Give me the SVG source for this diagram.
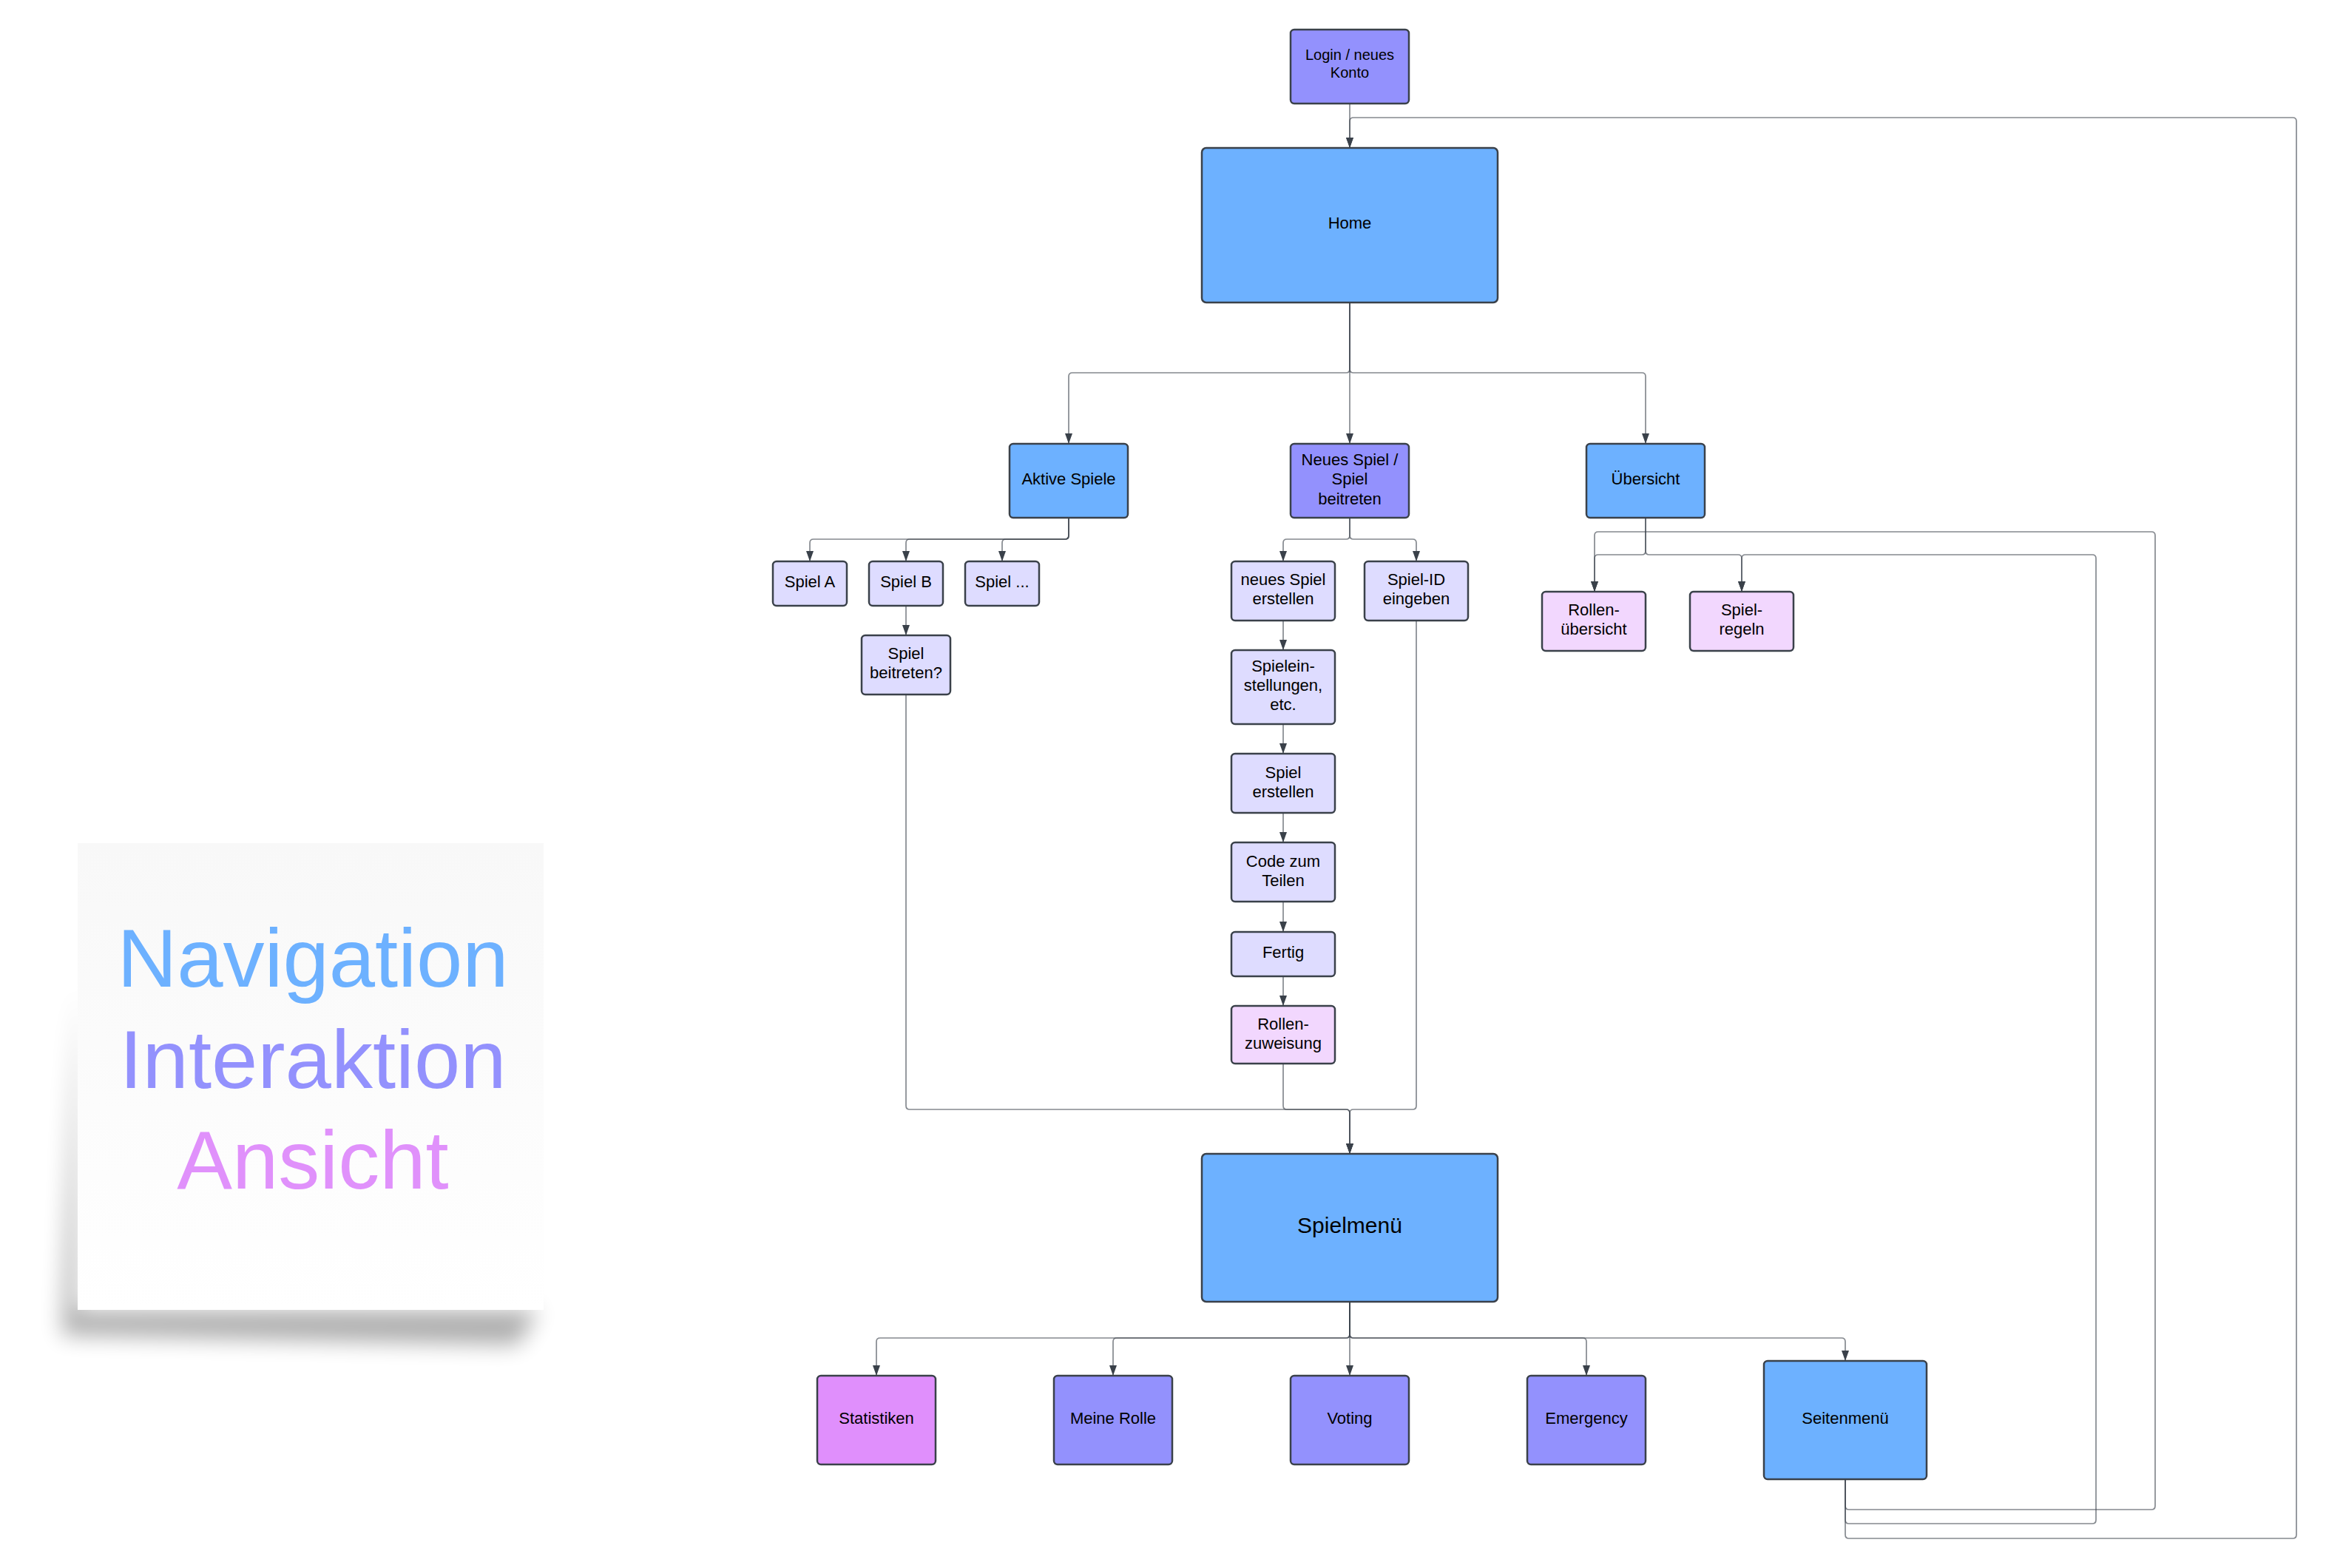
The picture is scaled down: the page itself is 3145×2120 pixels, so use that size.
<svg xmlns="http://www.w3.org/2000/svg" width="3145" height="2120" viewBox="0 0 3145 2120">
<defs>
<style>
.nd{stroke:#3a414a;stroke-width:2.5}
.blue{fill:#6db1ff}
.purple{fill:#9391fd}
.lav{fill:#dedcff}
.pink{fill:#f2d7fe}
.mag{fill:#e08ffc}
.t{font-family:"Liberation Sans",Arial,sans-serif;font-size:22px;fill:#000;text-anchor:middle}
.c{fill:none;stroke:#3a414a;stroke-opacity:0.62;stroke-width:1.7;marker-end:url(#arr)}
.leg{font-family:"Liberation Sans",Arial,sans-serif;font-size:112px;text-anchor:middle}
</style>
<marker id="arr" viewBox="0 0 14 10" refX="14" refY="5" markerWidth="14" markerHeight="10" markerUnits="userSpaceOnUse" orient="auto">
<path d="M0,0 L14,5 L0,10 Z" fill="#3a414a"/>
</marker>
<linearGradient id="note" x1="0" y1="0" x2="0" y2="1">
<stop offset="0" stop-color="#f8f8f8"/>
<stop offset="1" stop-color="#ffffff"/>
</linearGradient>
<filter id="blur" x="-20%" y="-20%" width="140%" height="140%">
<feGaussianBlur stdDeviation="15"/>
</filter>
</defs>
<rect width="3145" height="2120" fill="#ffffff"/>

<g id="legend">
<path d="M104,1330 L84,1805 L700,1818 L728,1772 L104,1772 Z" fill="#000" opacity="0.32" filter="url(#blur)"/>
<rect x="105" y="1140" width="630" height="631" fill="url(#note)"/>
<text class="leg" x="423" y="1334" fill="#6db1ff">Navigation</text>
<text class="leg" x="423" y="1471" fill="#9391fd">Interaktion</text>
<text class="leg" x="423" y="1607" fill="#e091fb">Ansicht</text>
</g>

<g id="connectors">
<path class="c" d="M1825,140 V200"/>
<path class="c" d="M1825,409 V499 Q1825,504 1820,504 H1450 Q1445,504 1445,509 V600"/>
<path class="c" d="M1825,409 V600"/>
<path class="c" d="M1825,409 V499 Q1825,504 1830,504 H2220 Q2225,504 2225,509 V600"/>
<path class="c" d="M1445,700 V724 Q1445,729 1440,729 H1100 Q1095,729 1095,734 V759"/>
<path class="c" d="M1445,700 V724 Q1445,729 1440,729 H1230 Q1225,729 1225,734 V759"/>
<path class="c" d="M1445,700 V724 Q1445,729 1440,729 H1360 Q1355,729 1355,734 V759"/>
<path class="c" d="M1225,819 V859"/>
<path class="c" d="M1825,700 V724 Q1825,729 1820,729 H1740 Q1735,729 1735,734 V759"/>
<path class="c" d="M1825,700 V724 Q1825,729 1830,729 H1910 Q1915,729 1915,734 V759"/>
<path class="c" d="M1735,839 V879"/>
<path class="c" d="M1735,979 V1019"/>
<path class="c" d="M1735,1099 V1139"/>
<path class="c" d="M1735,1219 V1260"/>
<path class="c" d="M1735,1320 V1360"/>
<path class="c" d="M1225,939 V1495 Q1225,1500 1230,1500 H1820 Q1825,1500 1825,1505 V1560"/>
<path class="c" d="M1735,1438 V1495 Q1735,1500 1740,1500 H1820 Q1825,1500 1825,1505 V1560"/>
<path class="c" d="M1915,839 V1495 Q1915,1500 1910,1500 H1830 Q1825,1500 1825,1505 V1560"/>
<path class="c" d="M1825,1760 V1804 Q1825,1809 1820,1809 H1190 Q1185,1809 1185,1814 V1860"/>
<path class="c" d="M1825,1760 V1804 Q1825,1809 1820,1809 H1510 Q1505,1809 1505,1814 V1860"/>
<path class="c" d="M1825,1760 V1860"/>
<path class="c" d="M1825,1760 V1804 Q1825,1809 1830,1809 H2140 Q2145,1809 2145,1814 V1860"/>
<path class="c" d="M1825,1760 V1804 Q1825,1809 1830,1809 H2490 Q2495,1809 2495,1814 V1840"/>
<path class="c" d="M2225,700 V745 Q2225,750 2220,750 H2161 Q2156,750 2156,755 V800"/>
<path class="c" d="M2225,700 V745 Q2225,750 2230,750 H2350 Q2355,750 2355,755 V800"/>
<path class="c" d="M2495,2000 V2075 Q2495,2080 2500,2080 H3100 Q3105,2080 3105,2075 V164 Q3105,159 3100,159 H1830 Q1825,159 1825,164 V200"/>
<path class="c" d="M2495,2000 V2036 Q2495,2041 2500,2041 H2909 Q2914,2041 2914,2036 V724 Q2914,719 2909,719 H2161 Q2156,719 2156,724 V800"/>
<path class="c" d="M2495,2000 V2055 Q2495,2060 2500,2060 H2829 Q2834,2060 2834,2055 V755 Q2834,750 2829,750 H2360 Q2355,750 2355,755 V800"/>
</g>

<g id="login"><rect class="nd purple" x="1745" y="40" width="160" height="100" rx="5"/><text class="t" style="font-size:20px" x="1825" y="81">Login / neues</text><text class="t" style="font-size:20px" x="1825" y="105">Konto</text></g>
<g id="home"><rect class="nd blue" x="1625" y="200" width="400" height="209" rx="6"/><text class="t" x="1825" y="309">Home</text></g>
<g id="aktive"><rect class="nd blue" x="1365" y="600" width="160" height="100" rx="5"/><text class="t" x="1445" y="655">Aktive Spiele</text></g>
<g id="neues"><rect class="nd purple" x="1745" y="600" width="160" height="100" rx="5"/><text class="t" x="1825" y="629">Neues Spiel /</text><text class="t" x="1825" y="655">Spiel</text><text class="t" x="1825" y="682">beitreten</text></g>
<g id="uebersicht"><rect class="nd blue" x="2145" y="600" width="160" height="100" rx="5"/><text class="t" x="2225" y="655">Übersicht</text></g>
<g id="spielA"><rect class="nd lav" x="1045" y="759" width="100" height="60" rx="5"/><text class="t" x="1095" y="794">Spiel A</text></g>
<g id="spielB"><rect class="nd lav" x="1175" y="759" width="100" height="60" rx="5"/><text class="t" x="1225" y="794">Spiel B</text></g>
<g id="spielX"><rect class="nd lav" x="1305" y="759" width="100" height="60" rx="5"/><text class="t" x="1355" y="794">Spiel ...</text></g>
<g id="beitreten"><rect class="nd lav" x="1165" y="859" width="120" height="80" rx="5"/><text class="t" x="1225" y="891">Spiel</text><text class="t" x="1225" y="917">beitreten?</text></g>
<g id="neuesErstellen"><rect class="nd lav" x="1665" y="759" width="140" height="80" rx="5"/><text class="t" x="1735" y="791">neues Spiel</text><text class="t" x="1735" y="817">erstellen</text></g>
<g id="spielID"><rect class="nd lav" x="1845" y="759" width="140" height="80" rx="5"/><text class="t" x="1915" y="791">Spiel-ID</text><text class="t" x="1915" y="817">eingeben</text></g>
<g id="einstellungen"><rect class="nd lav" x="1665" y="879" width="140" height="100" rx="5"/><text class="t" x="1735" y="908">Spielein-</text><text class="t" x="1735" y="934">stellungen,</text><text class="t" x="1735" y="960">etc.</text></g>
<g id="erstellen"><rect class="nd lav" x="1665" y="1019" width="140" height="80" rx="5"/><text class="t" x="1735" y="1052">Spiel</text><text class="t" x="1735" y="1078">erstellen</text></g>
<g id="code"><rect class="nd lav" x="1665" y="1139" width="140" height="80" rx="5"/><text class="t" x="1735" y="1172">Code zum</text><text class="t" x="1735" y="1198">Teilen</text></g>
<g id="fertig"><rect class="nd lav" x="1665" y="1260" width="140" height="60" rx="5"/><text class="t" x="1735" y="1295">Fertig</text></g>
<g id="zuweisung"><rect class="nd pink" x="1665" y="1360" width="140" height="78" rx="5"/><text class="t" x="1735" y="1392">Rollen-</text><text class="t" x="1735" y="1418">zuweisung</text></g>
<g id="rollenUebersicht"><rect class="nd pink" x="2085" y="800" width="140" height="80" rx="5"/><text class="t" x="2155" y="832">Rollen-</text><text class="t" x="2155" y="858">übersicht</text></g>
<g id="spielregeln"><rect class="nd pink" x="2285" y="800" width="140" height="80" rx="5"/><text class="t" x="2355" y="832">Spiel-</text><text class="t" x="2355" y="858">regeln</text></g>
<g id="spielmenu"><rect class="nd blue" x="1625" y="1560" width="400" height="200" rx="6"/><text class="t" style="font-size:30px" x="1825" y="1667">Spielmenü</text></g>
<g id="statistiken"><rect class="nd mag" x="1105" y="1860" width="160" height="120" rx="5"/><text class="t" x="1185" y="1925">Statistiken</text></g>
<g id="meineRolle"><rect class="nd purple" x="1425" y="1860" width="160" height="120" rx="5"/><text class="t" x="1505" y="1925">Meine Rolle</text></g>
<g id="voting"><rect class="nd purple" x="1745" y="1860" width="160" height="120" rx="5"/><text class="t" x="1825" y="1925">Voting</text></g>
<g id="emergency"><rect class="nd purple" x="2065" y="1860" width="160" height="120" rx="5"/><text class="t" x="2145" y="1925">Emergency</text></g>
<g id="seitenmenu"><rect class="nd blue" x="2385" y="1840" width="220" height="160" rx="5"/><text class="t" x="2495" y="1925">Seitenmenü</text></g>
</svg>
